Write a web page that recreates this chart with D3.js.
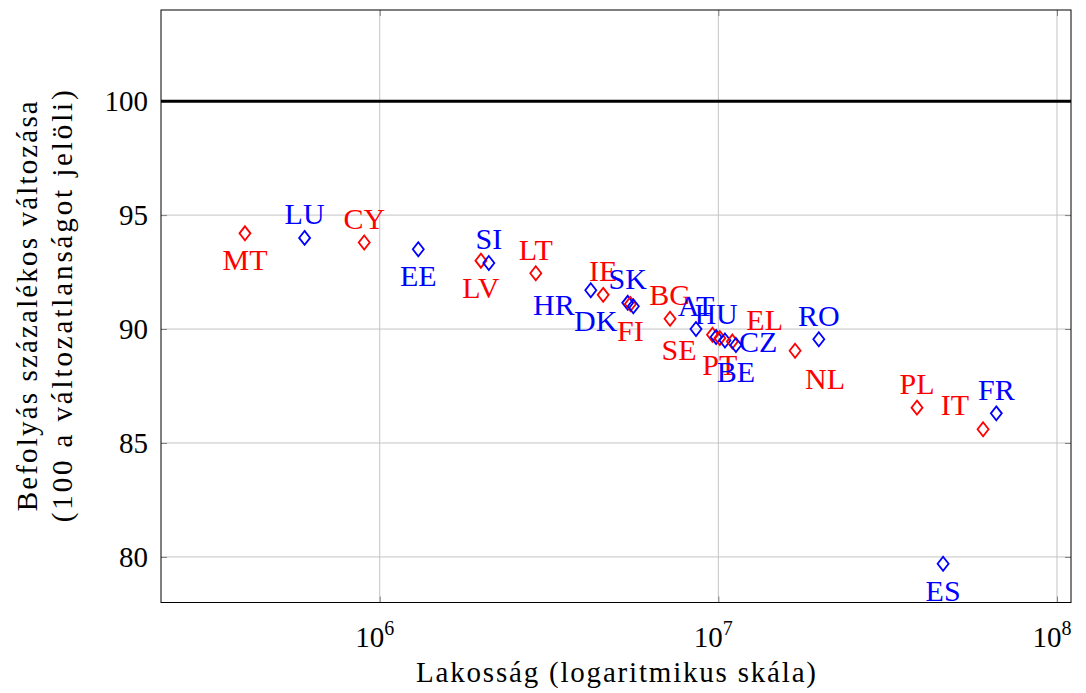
<!DOCTYPE html>
<html>
<head>
<meta charset="utf-8">
<script src="https://cdn.jsdelivr.net/npm/d3@7"></script>
<style>
  body { margin: 0; background: #fff; }
  svg { font-family: "Liberation Serif", "DejaVu Serif", serif; }
</style>
</head>
<body>
<svg id="chart" width="1086" height="693"></svg>
<script>
// Data
const countries = ["MT", "LU", "CY", "EE", "LV", "SI", "LT", "HR", "IE", "SK", "FI", "DK", "BG",
  "AT", "SE", "HU", "PT", "CZ", "EL", "BE", "NL", "RO", "PL", "FR", "IT", "ES"];
const population = [0.40e6, 0.60e6, 0.90e6, 1.30e6, 1.99e6, 2.10e6, 2.89e6, 4.20e6, 4.57e6,
  5.40e6, 5.50e6, 5.61e6, 7.20e6, 8.59e6, 9.61e6, 9.85e6, 10.1e6, 10.46e6, 11.0e6, 11.27e6,
  16.85e6, 19.8e6, 38.6e6, 66.2e6, 60.5e6, 46.1e6];
const influence = [94.2, 94.0, 93.8, 93.5, 93.0, 92.9, 92.45, 91.7, 91.5, 91.15, 91.1, 91.0,
  90.45, 90.0, 89.75, 89.65, 89.6, 89.5, 89.45, 89.3, 89.05, 89.55, 86.55, 86.3, 85.6, 79.7];
// two groups of countries (red / blue)
const groups = ["a", "b", "a", "b", "a", "b", "a", "b", "a", "b", "a", "b", "a",
  "b", "a", "b", "a", "b", "a", "b", "a", "b", "a", "b", "a", "b"];
// where each country label sits relative to its mark
const labelPos = ["below", "above", "above", "below", "below", "above", "above", "left", "above",
  "above", "below", "left", "above", "above", "left", "above", "below", "right", "above right",
  "below", "below right", "above", "above", "above", "above left", "below"];

const xTicks = [1e6, 1e7, 1e8];
const yTicks = [80, 85, 90, 95, 100];
const refValue = 100;
const xDomain = [2.26e5, 1.1e8];
const yDomain = [78, 104];

const xTitle = "Lakosság (logaritmikus skála)";
const yTitle = ["Befolyás százalékos változása", "(100 a változatlanságot jelöli)"];

// Canvas
const svg = d3.select("#chart");
const [pl, pr, pt, pb] = [161, 1071, 10, 602.5];

const x = d3.scaleLog().domain(xDomain).range([pl, pr]);
const y = d3.scaleLinear().domain(yDomain).range([pb, pt]);
const color = d3.scaleOrdinal().domain(["a", "b"]).range(["#ff0000", "#0000ff"]);

const data = countries.map((c, i) => ({
  name: c, pop: population[i], val: influence[i], group: groups[i], pos: labelPos[i],
}));

// Grid
svg.append("g")
  .selectAll("line")
  .data(xTicks)
  .join("line")
  .attr("x1", (d) => x(d)).attr("x2", (d) => x(d))
  .attr("y1", pt).attr("y2", pb)
  .attr("stroke", "#c4c4c4").attr("stroke-width", 1);

svg.append("g")
  .selectAll("line")
  .data(yTicks)
  .join("line")
  .attr("x1", pl).attr("x2", pr)
  .attr("y1", (d) => y(d)).attr("y2", (d) => y(d))
  .attr("stroke", "#c4c4c4").attr("stroke-width", 1);

// Inner tick marks on all four sides
const tickStyle = (g) => {
  g.select(".domain").remove();
  g.selectAll(".tick line").attr("stroke", "#808080").attr("stroke-width", 1);
  g.selectAll(".tick text").remove();
};
svg.append("g").attr("transform", `translate(0,${pb})`)
  .call(d3.axisBottom(x).tickValues(xTicks).tickSizeInner(-6).tickSizeOuter(0)).call(tickStyle);
svg.append("g").attr("transform", `translate(0,${pt})`)
  .call(d3.axisTop(x).tickValues(xTicks).tickSizeInner(-6).tickSizeOuter(0)).call(tickStyle);
svg.append("g").attr("transform", `translate(${pl},0)`)
  .call(d3.axisLeft(y).tickValues(yTicks).tickSizeInner(-6).tickSizeOuter(0)).call(tickStyle);
svg.append("g").attr("transform", `translate(${pr},0)`)
  .call(d3.axisRight(y).tickValues(yTicks).tickSizeInner(-6).tickSizeOuter(0)).call(tickStyle);

// Reference line
svg.append("line")
  .attr("x1", pl).attr("x2", pr)
  .attr("y1", y(refValue)).attr("y2", y(refValue))
  .attr("stroke", "#000").attr("stroke-width", 3);

// Frame
svg.append("rect")
  .attr("x", pl).attr("y", pt)
  .attr("width", pr - pl).attr("height", pb - pt)
  .attr("fill", "none").attr("stroke", "#000").attr("stroke-width", 1);

// Tick labels
svg.append("g")
  .selectAll("text")
  .data(yTicks)
  .join("text")
  .attr("x", pl - 13)
  .attr("y", (d) => y(d) + 10)
  .attr("text-anchor", "end")
  .attr("font-size", 29)
  .text((d) => d);

const xLab = svg.append("g")
  .selectAll("text")
  .data(xTicks)
  .join("text")
  .attr("x", (d) => x(d) - 5)
  .attr("y", pb + 44)
  .attr("text-anchor", "middle")
  .attr("font-size", 29);
xLab.append("tspan").text("10");
xLab.append("tspan")
  .attr("font-size", 20)
  .attr("dy", -12)
  .text((d) => Math.round(Math.log10(d)));

// Axis titles (stretched to the width of the wider original typeface)
svg.append("text")
  .attr("x", (pl + pr) / 2)
  .attr("y", 682)
  .attr("text-anchor", "middle")
  .attr("font-size", 29)
  .attr("textLength", 400)
  .attr("lengthAdjust", "spacing")
  .text(xTitle);

const yTitleLen = [410, 432];
svg.append("g")
  .selectAll("text")
  .data(yTitle)
  .join("text")
  .attr("transform", (d, i) => `translate(${37 + i * 35},${(pt + pb) / 2}) rotate(-90)`)
  .attr("text-anchor", "middle")
  .attr("font-size", 29)
  .attr("textLength", (d, i) => yTitleLen[i])
  .attr("lengthAdjust", "spacing")
  .text((d) => d);

// Marks
const diamond = "M0,-7L5.5,0L0,7L-5.5,0Z";
svg.append("g")
  .selectAll("path")
  .data(data)
  .join("path")
  .attr("d", diamond)
  .attr("transform", (d) => `translate(${x(d.pop)},${y(d.val)})`)
  .attr("fill", "none")
  .attr("stroke", (d) => color(d.group))
  .attr("stroke-width", 1.8);

// Labels: [dx, baseline dy, text-anchor]
const anchors = {
  above: [0, -13.5, "middle"],
  below: [0, 37, "middle"],
  left: [-16, 25, "end"],
  right: [14, 12, "start"],
  "above right": [14, -12, "start"],
  "above left": [-14, -14, "end"],
  "below right": [10, 38, "start"],
};
svg.append("g")
  .selectAll("text")
  .data(data)
  .join("text")
  .attr("x", (d) => x(d.pop) + anchors[d.pos][0])
  .attr("y", (d) => y(d.val) + anchors[d.pos][1])
  .attr("text-anchor", (d) => anchors[d.pos][2])
  .attr("font-size", 30)
  .attr("fill", (d) => color(d.group))
  .text((d) => d.name);
</script>
</body>
</html>
